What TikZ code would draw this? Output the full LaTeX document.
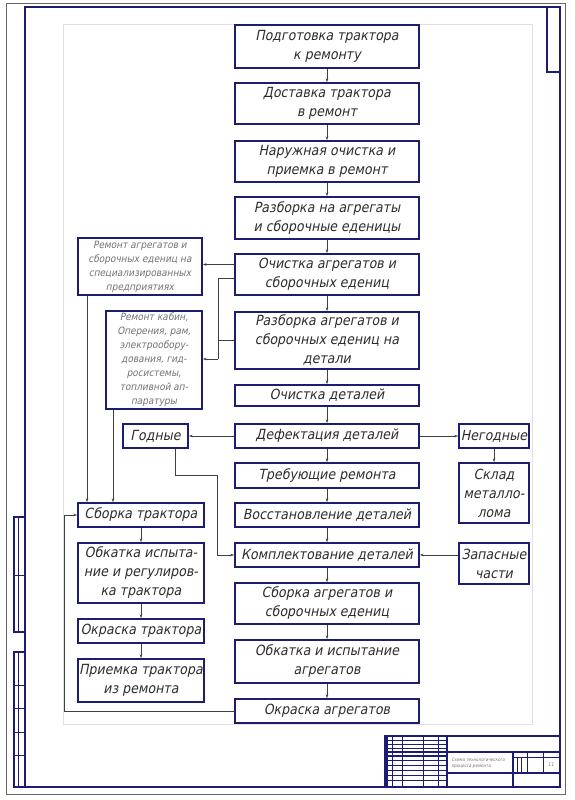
\documentclass[tikz,border=0pt]{standalone}
\usepackage{fontspec}
\setmainfont{DejaVu Sans}
\newfontfamily\gost{DejaVu Sans Condensed}[FakeSlant=0.2]
\usetikzlibrary{arrows.meta,positioning}
\definecolor{frameblue}{RGB}{28,28,115}
\definecolor{textgray}{RGB}{45,45,45}
\definecolor{notegray}{RGB}{115,115,115}
\tikzset{
  stage/.style={draw=frameblue,line width=1.5pt,fill=white,align=center,inner sep=1pt,
                minimum width=184pt,font=\gost\fontsize{14}{19}\selectfont,text=textgray},
  note/.style={draw=frameblue,line width=1.5pt,fill=white,align=center,inner sep=1pt,
               font=\gost\fontsize{10}{14}\selectfont,text=notegray},
  side/.style={stage,minimum width=126pt},
  link/.style={draw=black!75,line width=0.6pt},
  go/.style={link,-{Stealth[length=4pt,width=2.6pt]}},
  sheet/.style={draw=frameblue,line width=1.3pt},
  grid/.style={draw=frameblue,line width=0.6pt}
}

\begin{document}
\begin{tikzpicture}[x=1pt,y=-1pt]
\useasboundingbox (0,0) rectangle (574,800);
\fill[white] (0,0) rectangle (574,800);

% sheet frame
\draw[black!60,line width=0.5pt] (6,3) rectangle (565,794);
\draw[black!12,line width=0.6pt] (63,24) rectangle (532,724);
\draw[sheet] (25,7) rectangle (560,787);
\draw[sheet] (547,7) rectangle (560,72);
\draw[sheet] (14,517) rectangle (25,632);
\draw[grid] (18,517) -- (18,632) (14,575) -- (25,575);
\draw[sheet] (14,652) rectangle (25,787);
\draw[grid] (18,652) -- (18,787);
\foreach \y in {685,708,732,755} \draw[grid] (14,\y) -- (25,\y);

% title block
\draw[sheet] (385,736) rectangle (560,787);
\foreach \x in {392,402,423,438} \draw[grid] (\x,736) -- (\x,787);
\draw[sheet] (387,736) -- (387,787) (447,736) -- (447,787);
\foreach \y in {740,744,748,760,765,770,775,780} \draw[grid] (385,\y) -- (447,\y);
\draw[sheet] (385,752) -- (560,752) (385,756) -- (447,756);
\draw[sheet] (513,752) -- (513,787) (447,773) -- (560,773);
\draw[grid] (527,752) -- (527,773) (543,752) -- (543,773) (513,757) -- (560,757);
\draw[grid] (517,757) -- (517,773) (521,757) -- (521,773);
\node[font=\gost\fontsize{4.5}{6}\selectfont,text=notegray,align=left,anchor=west] (titul) at (448,763)
  {Схема технологического\\процесса ремонта};
\node[font=\gost\fontsize{5}{6}\selectfont,text=notegray] (list) at (551,765) {11};

% main column
\node[stage,minimum height=43pt] (podg) at (327,46.5) {Подготовка трактора\\к ремонту};
\node[stage,minimum height=41pt] (dost) at (327,103.5) {Доставка трактора\\в ремонт};
\node[stage,minimum height=41pt] (naru) at (327,161.5) {Наружная очистка и\\приемка в ремонт};
\node[stage,minimum height=42pt] (razb) at (327,218) {Разборка на агрегаты\\и сборочные еденицы};
\node[stage,minimum height=41pt] (ochA) at (327,274.5) {Очистка агрегатов и\\сборочных едениц};
\node[stage,minimum height=57pt] (razD) at (327,340.5) {Разборка агрегатов и\\сборочных едениц на\\детали};
\node[stage,minimum height=21pt] (ochD) at (327,395.5) {Очистка деталей};
\node[stage,minimum height=24pt] (defe) at (327,436) {Дефектация деталей};
\node[stage,minimum height=25pt] (treb) at (327,475.5) {Требующие ремонта};
\node[stage,minimum height=24pt] (vost) at (327,515) {Восстановление деталей};
\node[stage,minimum height=24pt] (komp) at (327,555) {Комплектование деталей};
\node[stage,minimum height=41pt] (sbor) at (327,603.5) {Сборка агрегатов и\\сборочных едениц};
\node[stage,minimum height=43pt] (obkA) at (327,661.5) {Обкатка и испытание\\агрегатов};
\node[stage,minimum height=24pt] (okrA) at (327,711) {Окраска агрегатов};

\foreach \a/\b in {podg/dost,dost/naru,naru/razb,razb/ochA,ochA/razD,razD/ochD,
                   ochD/defe,defe/treb,treb/vost,vost/komp,komp/sbor,sbor/obkA,obkA/okrA}
  \draw[go] (\a) -- (\b);

% side boxes
\node[note,minimum width=124pt,minimum height=57pt] (remA) at (140,266.5)
  {Ремонт агрегатов и\\сборочных едениц на\\специализированных\\предприятиях};
\node[note,minimum width=96pt,minimum height=98pt] (remK) at (154,360)
  {Ремонт кабин,\\Оперения, рам,\\электрообору-\\дования, гид-\\росистемы,\\топливной ап-\\паратуры};
\node[stage,minimum width=65pt,minimum height=24pt] (godn) at (155.5,436) {Годные};
\node[stage,minimum width=70pt,minimum height=24pt] (negd) at (494,436) {Негодные};
\node[stage,minimum width=70pt,minimum height=60pt] (skld) at (494,493) {Склад\\металло-\\лома};
\node[stage,minimum width=70pt,minimum height=41pt] (zapc) at (494,563.5) {Запасные\\части};

\node[side,minimum height=24pt] (sbTr) at (141,515) {Сборка трактора};
\node[side,minimum height=60pt] (obTr) at (141,573) {Обкатка испыта-\\ние и регулиров-\\ка трактора};
\node[side,minimum height=24pt] (okTr) at (141,631) {Окраска трактора};
\node[side,minimum height=43pt] (prTr) at (141,680.5) {Приемка трактора\\из ремонта};

% connectors
\draw[go] ([yshift=10pt]ochA.west) -- ([yshift=10pt]ochA.west -| remA.east);
\coordinate (kn) at (218,359);
\draw[link] ([yshift=-3.5pt]ochA.west) -| (kn);
\draw[link] (razD.west) -- (razD.west -| kn);
\draw[go] (kn) -- (kn -| remK.east);
\draw[go] ([xshift=-53pt]remA.south) -- ([xshift=-53pt]remA.south |- sbTr.north);
\draw[go] ([xshift=-41pt]remK.south) -- ([xshift=-41pt]remK.south |- sbTr.north);
\draw[go] (defe) -- (godn);
\draw[go] (defe) -- (negd);
\draw[go] (negd) -- (skld);
\coordinate (kg) at (217,475);
\draw[go] ([xshift=20pt]godn.south) |- (kg) |- (komp.west);
\draw[go] (zapc.west |- komp.east) -- (komp.east);
\draw[go] (sbTr) -- (obTr);
\draw[go] (obTr) -- (okTr);
\draw[go] (okTr) -- (prTr);
\coordinate (kr) at (64,515);
\draw[go] (okrA.west) -| (kr) -- (sbTr.west);
\end{tikzpicture}
\end{document}
